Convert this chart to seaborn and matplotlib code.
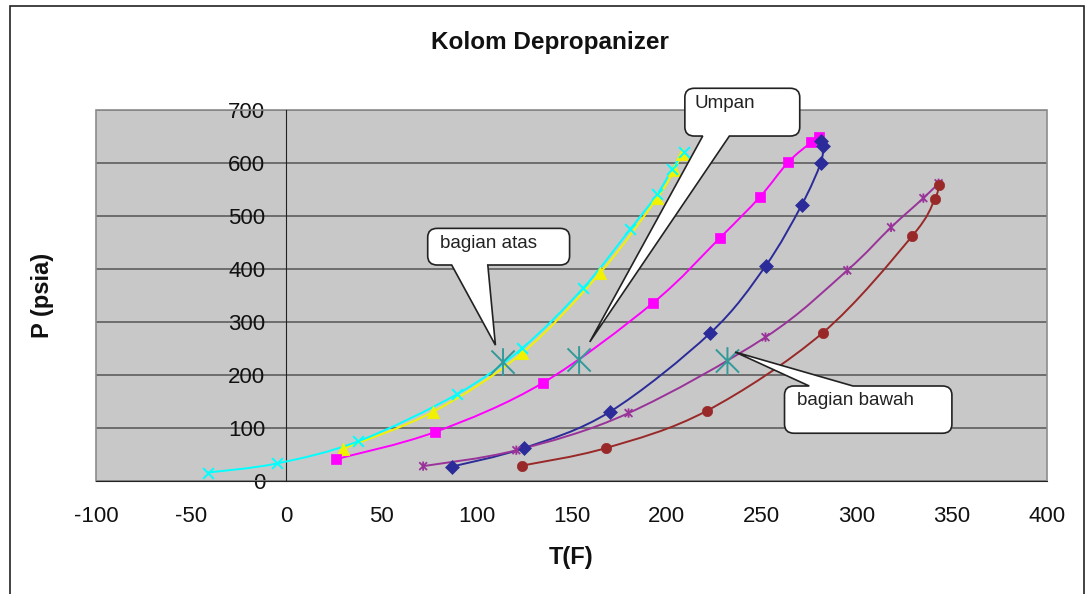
import matplotlib
matplotlib.use("Agg")
import numpy as np
import pandas as pd
import seaborn as sns
import matplotlib.pyplot as plt
from matplotlib.path import Path
from matplotlib.patches import PathPatch, Rectangle

# ---- data: temperature (F) vs pressure (psia) ----
cyan_T = [-41, -5, 38, 90, 124, 156, 181, 195, 203, 209]
cyan_P = [16, 33, 75, 164, 250, 363, 475, 540, 588, 620]

yellow_T = [30, 77, 124, 165, 195, 204, 208]
yellow_P = [61, 130, 241, 392, 533, 586, 617]

pink_T = [26, 78, 135, 193, 228, 249, 264, 276, 280]
pink_P = [41, 92, 185, 336, 458, 535, 601, 638, 648]

blue_T = [87, 125, 170, 223, 252, 271, 281, 282, 281]
blue_P = [27, 62, 130, 279, 405, 520, 599, 631, 640]

purple_T = [72, 121, 180, 252, 295, 318, 335, 343]
purple_P = [28, 58, 128, 271, 397, 478, 533, 561]

red_T = [124, 168, 221, 282, 329, 341, 343]
red_P = [29, 62, 132, 279, 461, 531, 557]

# operating points of the column sections
section_names = ["bagian atas", "Umpan", "bagian bawah"]
section_T = [114, 154, 232]
section_P = [224, 228, 226]

x_ticks = [-100, -50, 0, 50, 100, 150, 200, 250, 300, 350, 400]
y_ticks = [0, 100, 200, 300, 400, 500, 600, 700]

sns.set_style("white")
plt.rcParams["font.family"] = ["Liberation Sans", "DejaVu Sans"]
plt.rcParams["axes.unicode_minus"] = False

W, H = 1087, 594
fig = plt.figure(figsize=(W / 100, H / 100), dpi=100)
ax = fig.add_axes([96 / W, (H - 481) / H, (1047 - 96) / W, (481 - 109.5) / H])
ax.set_facecolor("#c8c8c8")
ax.set_xlim(-100, 400)
ax.set_ylim(0, 700)

# star marker (vertical bar plus an X), as used by Excel
star = Path([(-1, -1), (1, 1), (-1, 1), (1, -1), (0, -1.2), (0, 1.2)],
            [Path.MOVETO, Path.LINETO, Path.MOVETO, Path.LINETO, Path.MOVETO, Path.LINETO])


def smooth_path(xs, ys):
    pts = np.column_stack([xs, ys]).astype(float)
    n = len(pts)
    verts = [pts[0]]
    codes = [Path.MOVETO]
    for i in range(n - 1):
        p0 = pts[i - 1] if i > 0 else pts[i]
        p1, p2 = pts[i], pts[i + 1]
        p3 = pts[i + 2] if i + 2 < n else pts[i + 1]
        verts += [p1 + (p2 - p0) / 6, p2 - (p3 - p1) / 6, p2]
        codes += [Path.CURVE4] * 3
    return Path(verts, codes)


# (T, P, colour, marker, size, kind)
series = [
    (yellow_T, yellow_P, "#f2f200", "^", 80, "filled"),
    (cyan_T, cyan_P, "#00ffff", "x", 60, "x"),
    (pink_T, pink_P, "#ff00ff", "s", 55, "filled"),
    (blue_T, blue_P, "#2b2b99", "D", 50, "filled"),
    (purple_T, purple_P, "#993399", star, 45, "path"),
    (red_T, red_P, "#992828", "o", 55, "filled"),
]

for T, P, col, mk, sz, kind in series:
    ax.add_patch(PathPatch(smooth_path(T, P), fill=False, edgecolor=col, lw=1.4, zorder=3))
    df = pd.DataFrame({"T": T, "P": P})
    if kind == "filled":
        sns.scatterplot(data=df, x="T", y="P", marker=mk, s=sz, color=col,
                        edgecolor=col, linewidth=0.5, ax=ax, zorder=4)
    elif kind == "x":
        sns.scatterplot(data=df, x="T", y="P", marker=mk, s=sz, color=col,
                        linewidth=1.4, ax=ax, zorder=4)
    else:
        sns.scatterplot(data=df, x="T", y="P", marker=mk, s=sz, facecolor="none",
                        edgecolor=col, color=col, linewidth=1.3, ax=ax, zorder=4)

sns.scatterplot(x=section_T, y=section_P, marker=star, s=400, facecolor="none",
                edgecolor="#339999", color="#339999", linewidth=1.4, ax=ax, zorder=5)

# axes styling
ax.set_xticks(x_ticks)
ax.set_yticks(y_ticks)
ax.set_xticklabels([str(v) for v in x_ticks])
ax.set_yticklabels([str(v) for v in y_ticks])
ax.grid(axis="y", color="#555555", lw=1.1)
ax.grid(axis="x", visible=False)
ax.set_axisbelow(True)
for s in ["top", "right"]:
    ax.spines[s].set_visible(False)
ax.spines["left"].set_position(("data", 0))
ax.spines["left"].set_color("#222222")
ax.spines["bottom"].set_color("#222222")
ax.spines["left"].set_zorder(2)
ax.add_patch(Rectangle((0, 0), 1, 1, transform=ax.transAxes, fill=False,
                       edgecolor="#8c8c8c", lw=1.2, zorder=1.5, clip_on=False))
ax.tick_params(axis="both", direction="out", length=5, width=1, color="#222222",
               labelsize=16, labelcolor="#111111")
ax.tick_params(axis="x", pad=13)
ax.tick_params(axis="y", pad=10)
ax.set_xlabel("T(F)", fontsize=17, fontweight="bold", color="#111111")
ax.set_ylabel("P (psia)", fontsize=17, fontweight="bold", color="#111111")
ax.xaxis.set_label_coords((571 - 96) / 951, -0.207)
ax.xaxis.label.set_verticalalignment("center")
ax.yaxis.set_label_coords((42 - 96) / 951, 0.5)
ax.yaxis.label.set_verticalalignment("center")

fig.text(549.5 / W, 1 - 42 / H, "Kolom Depropanizer", ha="center", va="center",
         fontsize=17.5, fontweight="bold", color="#111111")


def callout(x0, x1, y0, y1, side, t0, t1, tip, rx=5.0, ry=17.0):
    v, c = [], []

    def mv(p):
        v.append(p); c.append(Path.MOVETO)

    def ln(p):
        v.append(p); c.append(Path.LINETO)

    def qc(ctrl, p):
        v.extend([ctrl, p]); c.extend([Path.CURVE3, Path.CURVE3])

    mv((x0 + rx, y0))
    if side == "bottom":
        ln((t0, y0)); ln(tip); ln((t1, y0))
    ln((x1 - rx, y0)); qc((x1, y0), (x1, y0 + ry))
    ln((x1, y1 - ry)); qc((x1, y1), (x1 - rx, y1))
    if side == "top":
        ln((t1, y1)); ln(tip); ln((t0, y1))
    ln((x0 + rx, y1)); qc((x0, y1), (x0, y1 - ry))
    ln((x0, y0 + ry)); qc((x0, y0), (x0 + rx, y0))
    v.append((x0, y0)); c.append(Path.CLOSEPOLY)
    ax.add_patch(PathPatch(Path(v, c), facecolor="white", edgecolor="#222222",
                           lw=1.2, zorder=6, clip_on=False))


callout(74.4, 149, 407, 476, "bottom", 87, 106, (110, 256))
callout(209.6, 270, 650, 740, "bottom", 219, 233, (159.6, 262))
callout(262, 350, 90, 179, "top", 275, 298, (236, 243))

ax.text(80.9, 448, section_names[0], fontsize=13.5, va="center", ha="left",
        color="#222222", zorder=7)
ax.text(214.9, 712, section_names[1], fontsize=13.5, va="center", ha="left",
        color="#222222", zorder=7, clip_on=False)
ax.text(268.6, 152.5, section_names[2], fontsize=13.5, va="center", ha="left",
        color="#222222", zorder=7)

# outer chart frame
fig.patches.append(Rectangle((10 / W, -0.05), (1084 - 10) / W, 1.05 - 6 / H,
                             transform=fig.transFigure, fill=False,
                             edgecolor="#222222", lw=1.2))

fig.savefig("out.png", dpi=100)
